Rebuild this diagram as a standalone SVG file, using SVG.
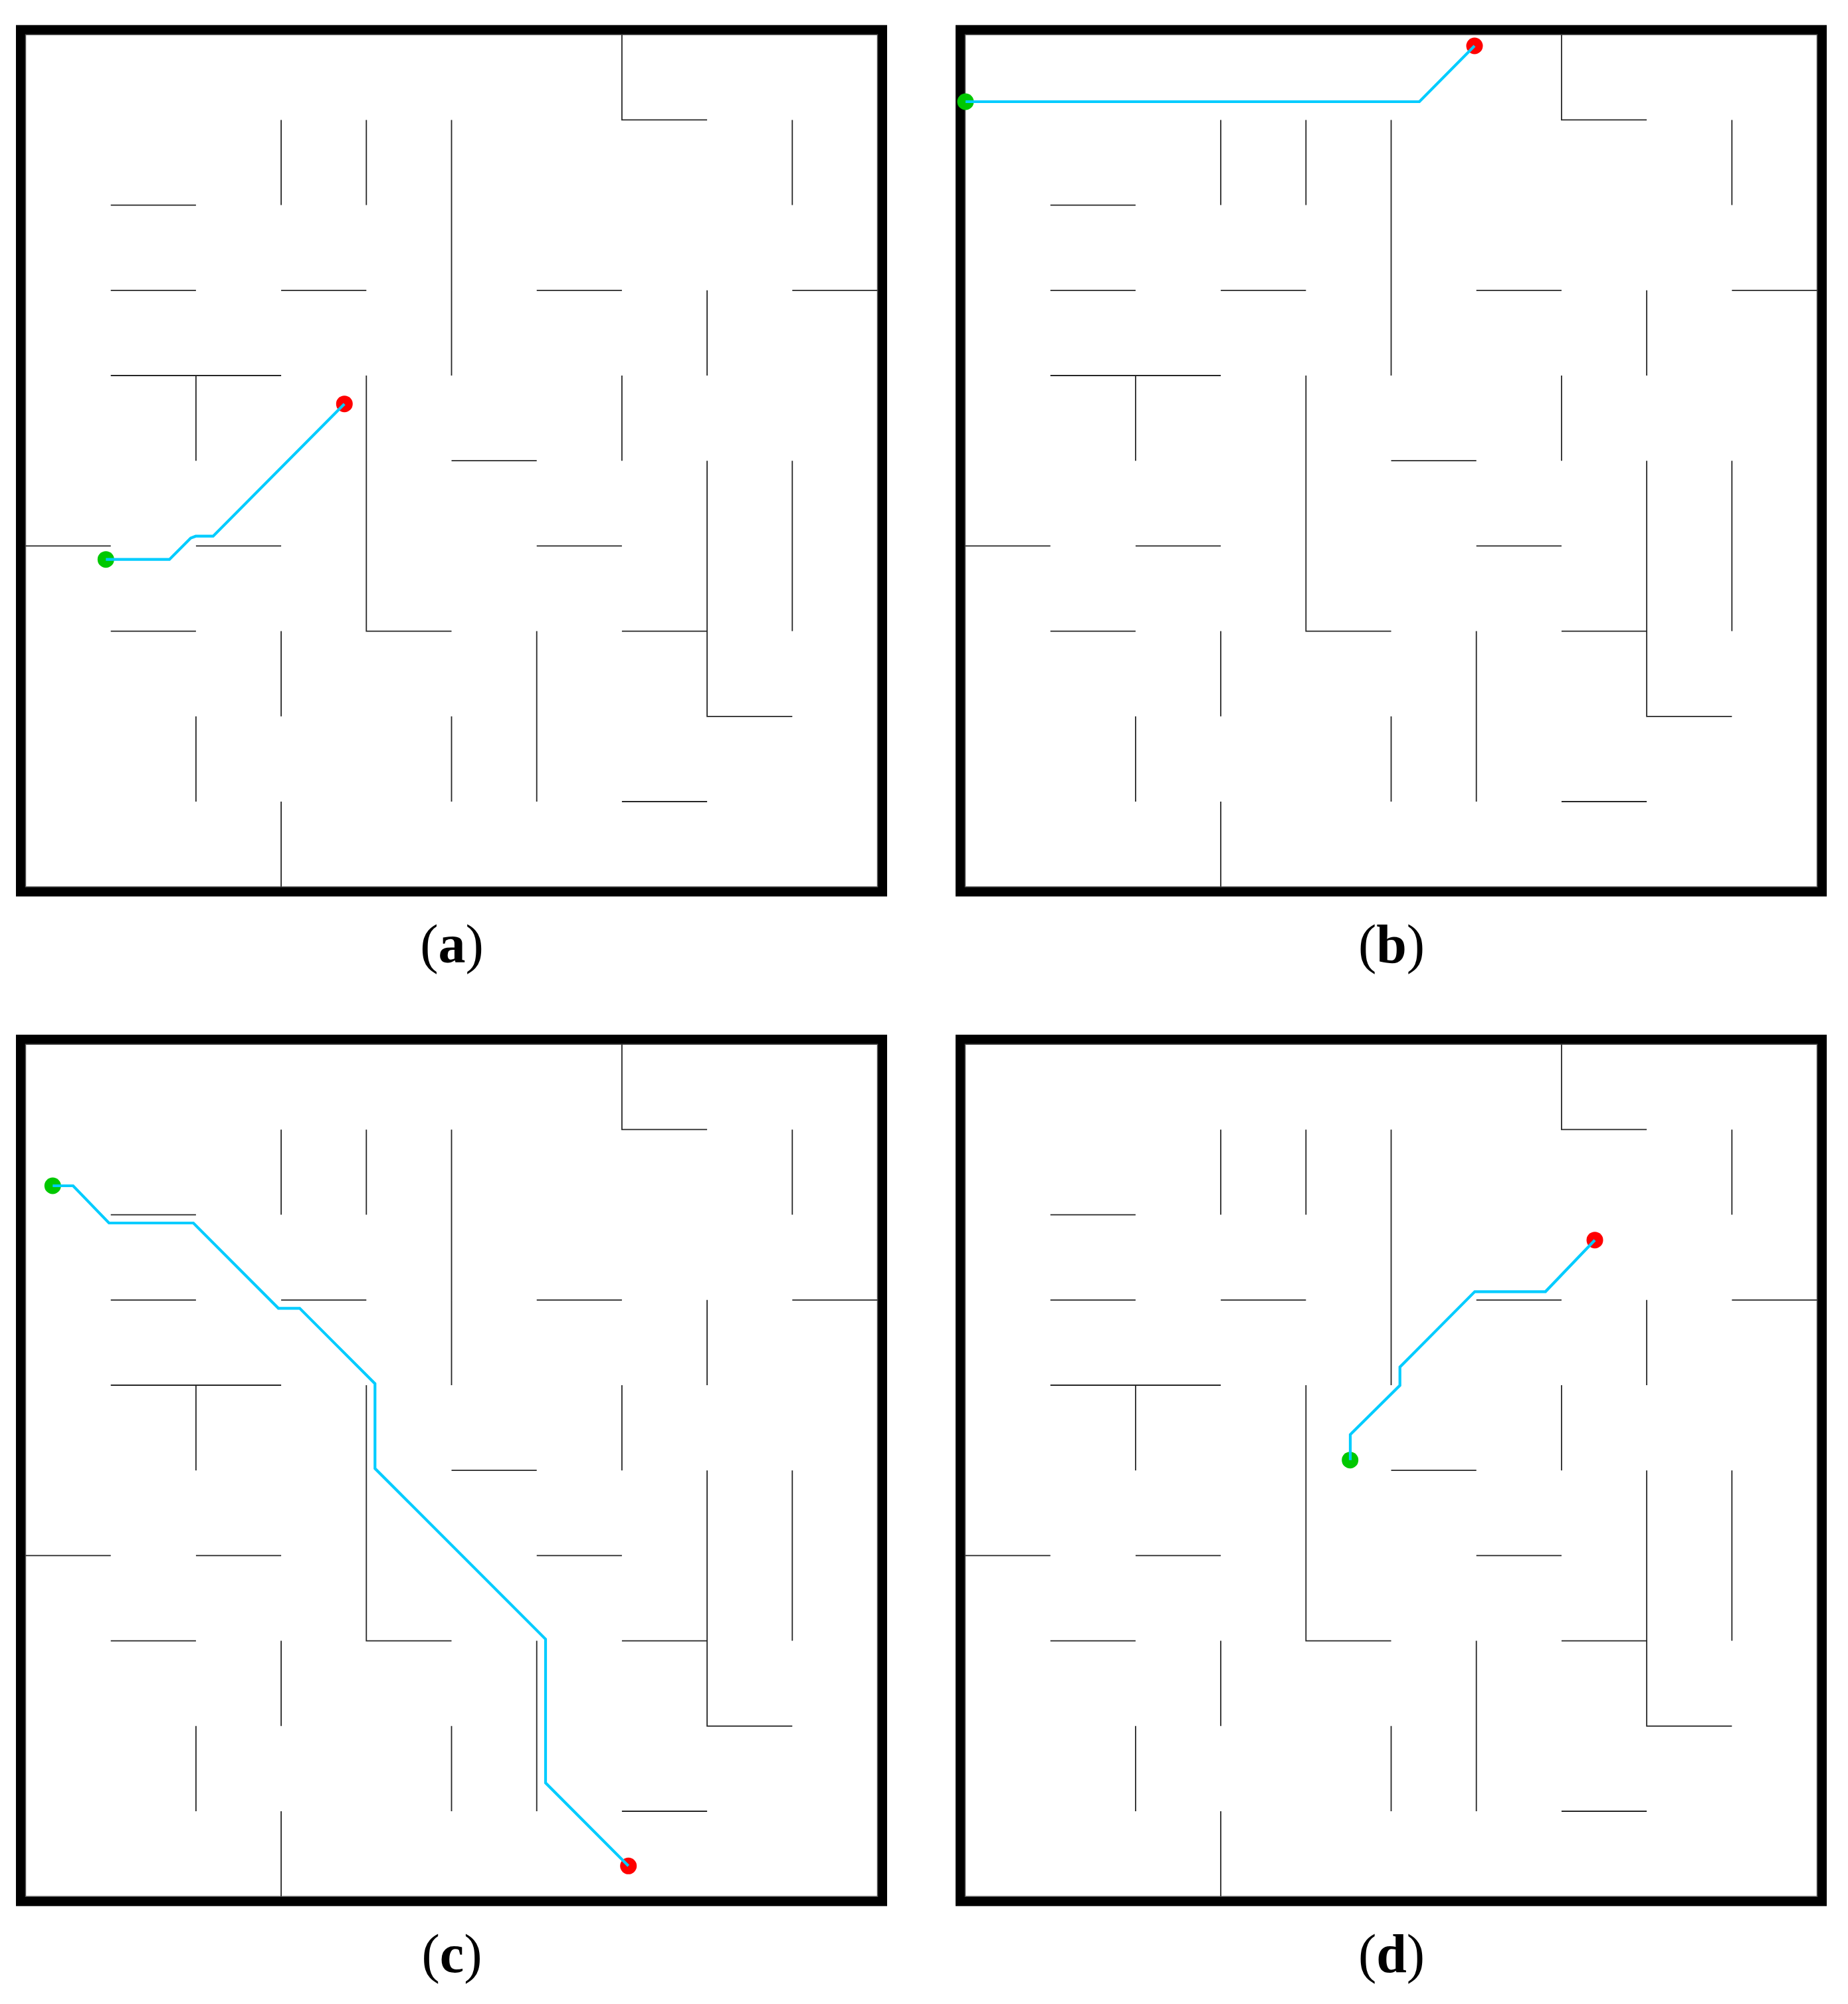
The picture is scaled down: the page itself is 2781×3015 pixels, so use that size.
<svg xmlns="http://www.w3.org/2000/svg" xmlns:xlink="http://www.w3.org/1999/xlink" width="2781" height="3015" viewBox="0 0 2781 3015">
<style>
.bg{fill:#ffffff}
.border{fill:none;stroke:#000000;stroke-width:14.5}
.inner{fill:none;stroke:#555555;stroke-width:1.5}
.wall{fill:none;stroke:#262626;stroke-width:1.8;stroke-linecap:butt;stroke-linejoin:miter}
.route{fill:none;stroke:#00CCFF;stroke-width:4.2;stroke-linejoin:miter;stroke-linecap:butt}
.start{fill:#00C800}
.goal{fill:#FF0000}
.label{font-family:"Liberation Serif","Times New Roman",serif;font-size:82px;text-anchor:middle;fill:#000000}
</style>
<defs>
<g id="maze">
<rect class="border" x="31.25" y="44.95" width="1296.5" height="1296.5"/>
<rect class="inner" x="38.5" y="52.2" width="1282" height="1282"/>
<path class="wall" d="M935.9 52.2 V180.4 H1064.1 M423.1 180.4 V308.6 M551.3 180.4 V308.6 M679.5 180.4 V565.0 M1192.3 180.4 V308.6 M166.7 308.6 H294.9 M166.7 436.8 H294.9 M423.1 436.8 H551.3 M807.7 436.8 H935.9 M1064.1 436.8 V565.0 M1192.3 436.8 H1320.5 M166.7 565.0 H423.1 M294.9 565.0 V693.2 M551.3 565.0 V949.6 H679.5 M935.9 565.0 V693.2 M679.5 693.2 H807.7 M1064.1 693.2 V1077.8 H1192.3 M1192.3 693.2 V949.6 M38.5 821.4 H166.7 M294.9 821.4 H423.1 M807.7 821.4 H935.9 M166.7 949.6 H294.9 M423.1 949.6 V1077.8 M807.7 949.6 V1206.0 M935.9 949.6 H1064.1 M294.9 1077.8 V1206.0 M679.5 1077.8 V1206.0 M935.9 1206.0 H1064.1 M423.1 1206.0 V1334.2"/>
</g>
</defs>
<rect class="bg" x="0" y="0" width="2781" height="3015"/>

<g id="panel-a">
<use xlink:href="#maze" href="#maze"/>
<g id="a-start"><circle class="start" cx="159.3" cy="841.7" r="12.5"/></g>
<g id="a-goal"><circle class="goal" cx="518.3" cy="607.7" r="12.5"/></g>
<text class="label" x="680" y="1448">(<tspan font-weight="bold">a</tspan>)</text>
</g>

<g id="panel-b" transform="translate(1414,0)">
<use xlink:href="#maze" href="#maze"/>
<g id="b-start"><circle class="start" cx="39" cy="153" r="12.5"/></g>
<g id="b-goal"><circle class="goal" cx="805" cy="69" r="12.5"/></g>
<text class="label" x="680" y="1448">(<tspan font-weight="bold">b</tspan>)</text>
</g>

<g id="panel-c" transform="translate(0,1519)">
<use xlink:href="#maze" href="#maze"/>
<g id="c-start"><circle class="start" cx="79.3" cy="265" r="12.5"/></g>
<g id="c-goal"><circle class="goal" cx="945.7" cy="1288.3" r="12.5"/></g>
<text class="label" x="680" y="1448">(<tspan font-weight="bold">c</tspan>)</text>
</g>

<g id="panel-d" transform="translate(1414,1519)">
<use xlink:href="#maze" href="#maze"/>
<g id="d-start"><circle class="start" cx="617.7" cy="677.7" r="12.5"/></g>
<g id="d-goal"><circle class="goal" cx="986" cy="346.7" r="12.5"/></g>
<text class="label" x="680" y="1448">(<tspan font-weight="bold">d</tspan>)</text>
</g>

<g id="connectors">
<path class="route" d="M159.3 841.7 H255 L287 809.5 L294.5 806.7 H320.7 L518.3 607.7"/>
<path class="route" transform="translate(1414,0)" d="M39 153 H722 L805 69"/>
<path class="route" transform="translate(0,1519)" d="M79.3 265 H110 L164 321 H291 L419 449.3 H451 L564.3 562.7 V690.3 L821 947 V1163.3 L945.7 1288.3"/>
<path class="route" transform="translate(1414,1519)" d="M618 677.7 V639.3 L692.7 565.3 V537.7 L805.3 424.3 H911.7 L986 346.7"/>
</g>
</svg>
